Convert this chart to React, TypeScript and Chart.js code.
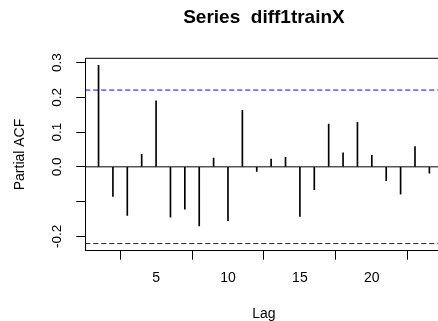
import React, { useEffect, useRef } from 'react';
import { Chart, registerables } from 'chart.js';

Chart.register(...registerables);

// ---- data ----
const lags = [1, 2, 3, 4, 5, 6, 7, 8, 9, 10, 11, 12, 13, 14, 15, 16, 17, 18, 19, 20, 21, 22, 23, 24];
const pacfValues = [
  0.292, -0.085, -0.14, 0.036, 0.19, -0.145, -0.122, -0.17, 0.025, -0.155, 0.163, -0.013,
  0.022, 0.027, -0.143, -0.066, 0.123, 0.04, 0.128, 0.033, -0.04, -0.079, 0.058, -0.018,
];
const confLimit = 0.221;
const xTickValues = [5, 10, 15, 20];
const yTickValues = [-0.2, -0.1, 0.0, 0.1, 0.2, 0.3];
const yTickLabels = ['-0.2', '', '0.0', '0.1', '0.2', '0.3'];
const xRange = [0.08, 24.92];
const yRange = [-0.2415, 0.3125];
const titleText = 'Series  diff1trainX';
const xTitle = 'Lag';
const yTitle = 'Partial ACF';

const FONT = '"Liberation Sans", Arial, Helvetica, sans-serif';

const rBoxPlugin = {
  id: 'rBox',
  afterDraw(chart: any) {
    const { ctx, chartArea, scales } = chart;
    ctx.save();
    ctx.strokeStyle = '#000';
    ctx.lineWidth = 1;
    ctx.beginPath();
    ctx.moveTo(chartArea.left, chartArea.top);
    ctx.lineTo(chartArea.right, chartArea.top);
    ctx.stroke();
    ctx.fillStyle = '#000';
    ctx.font = `13.5px ${FONT}`;
    ctx.textAlign = 'center';
    ctx.textBaseline = 'middle';
    const lx = chartArea.left - 9 - 19;
    yTickValues.forEach((v, i) => {
      const lab = yTickLabels[i];
      if (!lab) return;
      const y = scales.y.getPixelForValue(v);
      ctx.save();
      ctx.translate(lx, y);
      ctx.rotate(-Math.PI / 2);
      ctx.fillText(lab, 0, 0);
      ctx.restore();
    });
    ctx.restore();
  },
};

export default function App() {
  const ref = useRef<HTMLCanvasElement | null>(null);

  useEffect(() => {
    if (!ref.current) return;
    const W = 450;
    const H = 321;
    const plotLeft = 85.3;
    const plotRight = 442.6;
    const plotBottom = 250.7;

    const chart = new Chart(ref.current, {
      type: 'bar',
      data: {
        datasets: [
          {
            type: 'bar',
            data: lags.map((l, i) => ({ x: l, y: pacfValues[i] })),
            backgroundColor: '#000',
            borderWidth: 0,
            barThickness: 1,
            order: 1,
          } as any,
          {
            type: 'line',
            data: [
              { x: xRange[0], y: 0 },
              { x: xRange[1], y: 0 },
            ],
            borderColor: '#000',
            borderWidth: 1,
            pointRadius: 0,
            order: 2,
          } as any,
          {
            type: 'line',
            data: [
              { x: xRange[0], y: confLimit },
              { x: xRange[1], y: confLimit },
            ],
            borderColor: '#0000ff',
            borderWidth: 1,
            borderDash: [5, 3],
            pointRadius: 0,
            order: 0,
          } as any,
          {
            type: 'line',
            data: [
              { x: xRange[0], y: -confLimit },
              { x: xRange[1], y: -confLimit },
            ],
            borderColor: '#0000ff',
            borderWidth: 1,
            borderDash: [5, 3],
            pointRadius: 0,
            order: 0,
          } as any,
        ],
      },
      options: {
        animation: false,
        responsive: false,
        maintainAspectRatio: false,
        devicePixelRatio: 1,
        layout: { padding: { left: 0, right: W - plotRight, top: 0, bottom: 0 } },
        plugins: {
          legend: { display: false },
          tooltip: { enabled: false },
          title: {
            display: true,
            text: titleText,
            fullSize: false,
            color: '#000',
            font: { family: FONT, size: 19, weight: 'bold' },
            padding: { top: 6.6, bottom: 28.9 },
          },
        },
        scales: {
          x: {
            type: 'linear',
            min: xRange[0],
            max: xRange[1],
            offset: false,
            afterBuildTicks: (s: any) => {
              s.ticks = xTickValues.map((v) => ({ value: v }));
            },
            afterFit: (s: any) => {
              s.height = H - plotBottom;
            },
            grid: { display: true, drawOnChartArea: false, drawTicks: true, tickLength: 9, color: '#000' },
            border: { display: true, color: '#000', width: 1 },
            ticks: {
              autoSkip: false,
              maxRotation: 0,
              minRotation: 0,
              padding: 10.5,
              color: '#000',
              font: { family: FONT, size: 14 },
              callback: (v: any) => String(v),
            },
            title: {
              display: true,
              text: xTitle,
              color: '#000',
              font: { family: FONT, size: 14 },
              padding: { top: 0, bottom: -1.5 },
            },
          },
          y: {
            type: 'linear',
            min: yRange[0],
            max: yRange[1],
            afterBuildTicks: (s: any) => {
              s.ticks = yTickValues.map((v) => ({ value: v }));
            },
            afterFit: (s: any) => {
              s.width = plotLeft;
            },
            grid: { display: true, drawOnChartArea: false, drawTicks: true, tickLength: 9, color: '#000' },
            border: { display: true, color: '#000', width: 1 },
            ticks: { display: false },
            title: {
              display: true,
              text: yTitle,
              color: '#000',
              font: { family: FONT, size: 14 },
              padding: { top: 11.6, bottom: 0 },
            },
          },
        },
      } as any,
      plugins: [rBoxPlugin],
    });
    return () => chart.destroy();
  }, []);

  return (
    <div
      style={{
        position: 'absolute',
        left: 0,
        top: 0,
        width: 438,
        height: 321,
        overflow: 'hidden',
        background: '#fff',
      }}
    >
      <canvas ref={ref} width={450} height={321} style={{ width: 450, height: 321, display: 'block' }} />
    </div>
  );
}
